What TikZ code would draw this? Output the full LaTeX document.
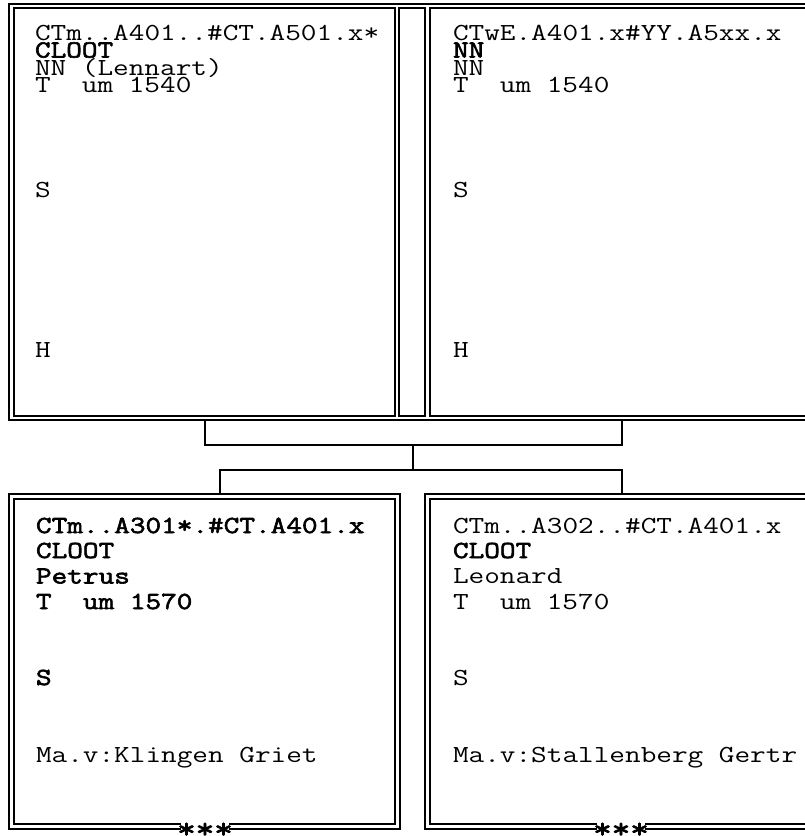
\documentclass[tikz,border=0pt]{standalone}
\usepackage{fontspec}
\setmonofont{Latin Modern Mono}[FakeStretch=1.24, AutoFakeBold=2.5]
\usetikzlibrary{fit}
\begin{document}
\begin{tikzpicture}[x=1pt,y=-1pt,
  outerline/.style={line width=2.2pt},
  innerline/.style={line width=1.4pt},
  link/.style={line width=1.6pt},
  area/.style={inner sep=0pt, outer sep=0pt},
  txt/.style={anchor=base west, inner sep=0pt, outer sep=0pt, font=\ttfamily\fontsize{24.5}{26}\selectfont},
  btxt/.style={txt, font=\ttfamily\bfseries\fontsize{24.5}{26}\selectfont},
  stars/.style={anchor=center, inner sep=0pt, outer sep=0pt, text height=4pt, text depth=4pt,
    font=\ttfamily\bfseries\fontsize{29}{30}\selectfont}]
\useasboundingbox (0,0) rectangle (805,836);
\clip (0,0) rectangle (805,836);
% areas of the four boxes
\node[area, fit={(9,4) (397,420)}] (fa) {};
\node[area, fit={(427,4) (840,420)}] (fb) {};
\node[area, fit={(9,494) (400,829)}] (pa) {};
\node[area, fit={(425,494) (840,829)}] (pb) {};
% top row frame
\draw[outerline] (9,4) rectangle (840,420);
\draw[innerline] (14,8) rectangle (395,416);
\draw[innerline] (399,8) rectangle (425,416);
\draw[innerline] (430,8) rectangle (840,416);
% bottom row frames
\draw[outerline] (9,494) rectangle (400,829);
\draw[innerline] (14,499) rectangle (395,824);
\draw[outerline] (425,494) rectangle (840,829);
\draw[innerline] (430,499) rectangle (840,824);
% connectors
\coordinate (ca) at (205,445);
\coordinate (cb) at (622,445);
\coordinate (cm) at (413,445);
\coordinate (dm) at (413,470);
\coordinate (dl) at (220,470);
\coordinate (dr) at (622,470);
\draw[link] (fa.south -| ca) -- (ca) -- (cb) -- (fb.south -| cb);
\draw[link] (cm) -- (dm);
\draw[link] (pa.north -| dl) -- (dl) -- (dr) -- (pb.north -| dr);
% top-left text
\node[txt] (a1) at (35,40) {CTm..A401..\#CT.A501.x*};
\node[btxt] (a2) at (35,57.5) {CLOOT};
\node[txt] (a3) at (35,75) {NN (Lennart)};
\node[txt] (a4) at (35,92.5) {T~~um 1540};
\node[txt] (a5) at (35,197.5) {S};
\node[txt] (a6) at (35,357) {H};
% top-right text
\node[txt] (b1) at (453,40) {CTwE.A401.x\#YY.A5xx.x};
\node[btxt] (b2) at (453,57.5) {NN};
\node[txt] (b3) at (453,75) {NN};
\node[txt] (b4) at (453,92.5) {T~~um 1540};
\node[txt] (b5) at (453,197.5) {S};
\node[txt] (b6) at (453,357) {H};
% bottom-left text
\node[btxt] (c1) at (36,533) {CTm..A301*.\#CT.A401.x};
\node[btxt] (c2) at (36,558) {CLOOT};
\node[btxt] (c3) at (36,583.5) {Petrus};
\node[btxt] (c4) at (36,609) {T~~um 1570};
\node[btxt] (c5) at (36,685) {S};
\node[txt] (c6) at (36,762.5) {Ma.v:Klingen Griet};
% bottom-right text
\node[txt] (d1) at (453,533) {CTm..A302..\#CT.A401.x};
\node[btxt] (d2) at (453,558) {CLOOT};
\node[txt] (d3) at (453,583.5) {Leonard};
\node[txt] (d4) at (453,609) {T~~um 1570};
\node[txt] (d5) at (453,685) {S};
\node[txt] (d6) at (453,762.5) {Ma.v:Stallenberg Gertr};
% stars on the bottom edges
\fill[white] (181,820) rectangle (229,833);
\fill[white] (597,820) rectangle (645,833);
\node[stars] (sa) at (205,829) {\raisebox{-9pt}{***}};
\node[stars] (sb) at (621,829) {\raisebox{-9pt}{***}};
\end{tikzpicture}
\end{document}
